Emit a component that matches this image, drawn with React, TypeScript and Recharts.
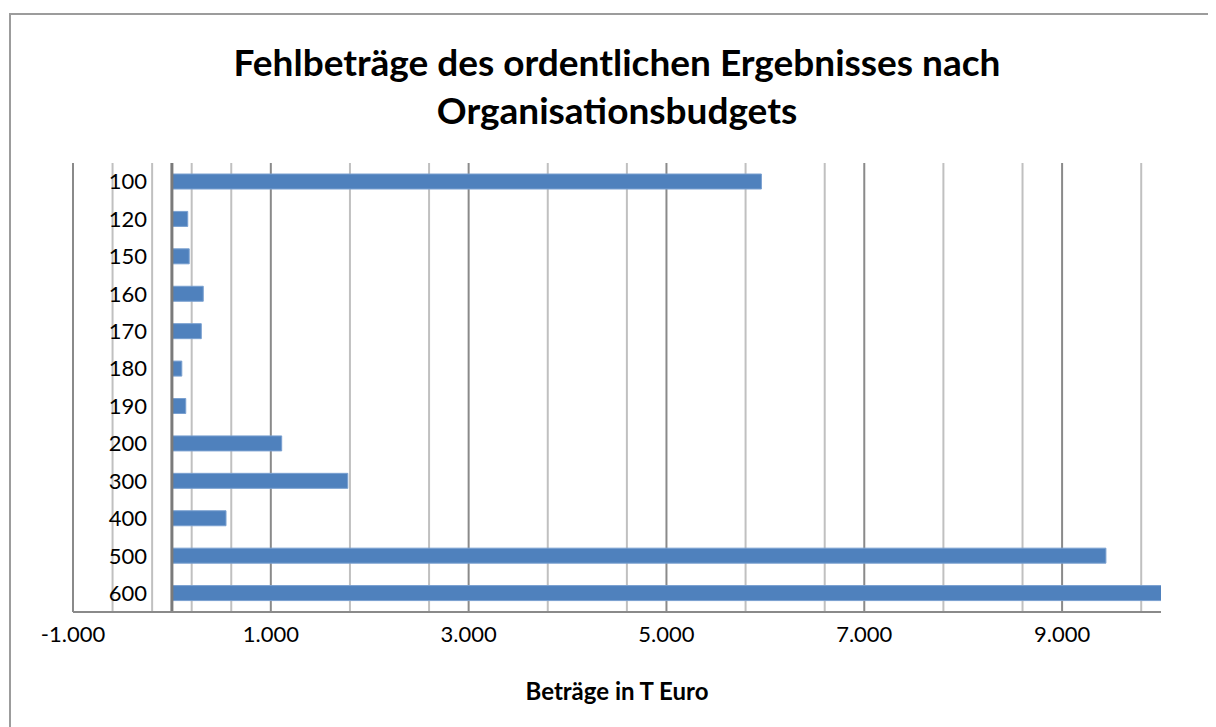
import { Bar, BarChart, CartesianGrid, ReferenceLine, XAxis, YAxis } from "recharts"

const budgets = ["100", "120", "150", "160", "170", "180", "190", "200", "300", "400", "500", "600"]
const amounts = [5960, 160, 175, 317, 297, 100, 140, 1110, 1778, 547, 9443, 10020]
const xTicks = [-1000, 1000, 3000, 5000, 7000, 9000]
const majorGrid = [-1000, 1000, 3000, 5000, 7000, 9000]
const minorGrid = [-600, -200, 200, 600, 1400, 1800, 2200, 2600, 3400, 3800, 4200, 4600, 5400, 5800, 6200, 6600, 7400, 7800, 8200, 8600, 9400, 9800]

const data = budgets.map((b, i) => ({ budget: b, value: amounts[i] }))

const W = 1208
const H = 719
const M = { top: 155, right: 55, bottom: 85, left: 64 }
const FONT = "Lato, 'Open Sans', sans-serif"

const fmt = (v: number) => v.toLocaleString("de-DE")

// category labels sit just left of the zero line, inside the plot
function BudgetTick(props: any) {
  const { x, y, payload } = props
  const plotW = W - M.left - M.right
  const dx = (plotW * 1000) / 11000 - 17
  return (
    <text x={x + dx} y={y} dy="0.35em" textAnchor="end" fontSize={22} fill="#000" fontFamily={FONT}>
      {payload.value}
    </text>
  )
}

export default function App() {
  return (
    <div style={{ position: "relative", width: W, height: H, overflow: "hidden", background: "#fff" }}>
      <div
        style={{
          position: "absolute",
          left: 1,
          top: 5,
          width: 1400,
          height: 1000,
          border: "2px solid #9c9c9c",
        }}
      />
      <div
        style={{
          position: "absolute",
          left: 0,
          top: 30,
          width: 1218,
          textAlign: "center",
          fontFamily: FONT,
          fontWeight: 700,
          fontSize: 37,
          lineHeight: "48px",
          color: "#000",
        }}
      >
        Fehlbeträge des ordentlichen Ergebnisses nach
        <br />
        Organisationsbudgets
      </div>
      <BarChart
        width={W}
        height={H}
        data={data}
        layout="vertical"
        margin={M}
        barSize={15}
        style={{ position: "absolute", left: 0, top: 0 }}
      >
        <CartesianGrid horizontal={false} verticalValues={minorGrid} stroke="#c0c0c0" strokeWidth={2} />
        <CartesianGrid horizontal={false} verticalValues={majorGrid} stroke="#8a8a8a" strokeWidth={2} />
        <XAxis
          type="number"
          domain={[-1000, 10000]}
          ticks={xTicks}
          allowDataOverflow
          tickFormatter={fmt}
          tickLine={false}
          axisLine={{ stroke: "#8a8a8a", strokeWidth: 2 }}
          tick={{ fontSize: 22, fill: "#000", fontFamily: FONT }}
          tickMargin={8}
          height={30}
        />
        <YAxis
          type="category"
          dataKey="budget"
          width={1}
          axisLine={false}
          tickLine={false}
          tick={(p: any) => <BudgetTick {...p} />}
        />
        <Bar dataKey="value" fill="#4f81bd" stroke="#7aa0d0" strokeWidth={1} isAnimationActive={false} />
        <ReferenceLine x={0} stroke="#7a7a7a" strokeWidth={3} />
      </BarChart>
      <div
        style={{
          position: "absolute",
          left: 0,
          top: 668,
          width: 1218,
          textAlign: "center",
          fontFamily: FONT,
          fontWeight: 700,
          fontSize: 24,
          color: "#000",
        }}
      >
        Beträge in T Euro
      </div>
    </div>
  )
}
